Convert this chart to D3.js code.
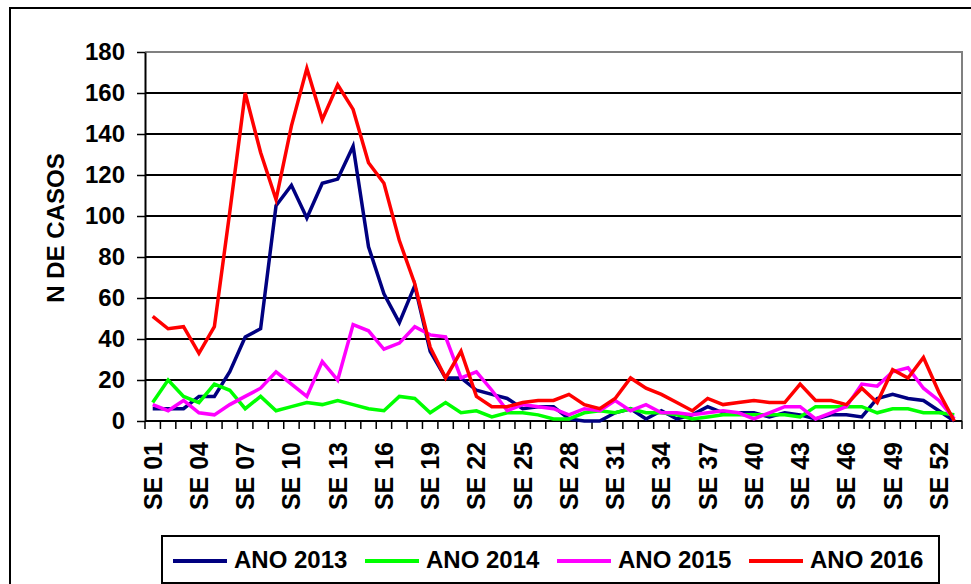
<!DOCTYPE html>
<html>
<head>
<meta charset="utf-8">
<script src="https://cdn.jsdelivr.net/npm/d3@7"></script>
<style>
  body { margin: 0; background: #fff; }
  svg { display: block; font-family: "Liberation Sans", Arial, sans-serif; font-weight: bold; }
</style>
</head>
<body>
<div id="chart"></div>
<script>
var width = 971;
var height = 584;

// semanas epidemiologicas SE 01 .. SE 53
var weeks = d3.range(1, 54).map(function(d) { return 'SE ' + (d < 10 ? '0' + d : '' + d); });
var seriesNames = ['ANO 2013', 'ANO 2014', 'ANO 2015', 'ANO 2016'];
var seriesColors = ['#000080', '#00ff00', '#ff00ff', '#ff0000'];
var yTicks = [0, 20, 40, 60, 80, 100, 120, 140, 160, 180];

var ano2013 = [6, 6, 6, 12, 12, 24, 41, 45, 105, 115,
  99, 116, 118, 134, 85, 62, 48, 66, 34, 21,
  21, 15, 13, 11, 6, 7, 7, 1, 0, 0,
  4, 6, 1, 5, 1, 3, 7, 4, 4, 4,
  2, 4, 3, 1, 3, 3, 2, 11, 13, 11,
  10, 5, 0];
var ano2014 = [9, 20, 12, 9, 18, 15, 6, 12, 5, 7,
  9, 8, 10, 8, 6, 5, 12, 11, 4, 9,
  4, 5, 2, 4, 4, 3, 1, 1, 4, 5,
  4, 6, 4, 4, 3, 1, 2, 3, 3, 3,
  3, 3, 2, 7, 7, 7, 7, 4, 6, 6,
  4, 4, 3];
var ano2015 = [8, 5, 10, 4, 3, 8, 12, 16, 24, 18,
  12, 29, 20, 47, 44, 35, 38, 46, 42, 41,
  21, 24, 15, 5, 8, 7, 6, 3, 6, 5,
  10, 5, 8, 4, 4, 3, 4, 5, 4, 1,
  4, 7, 7, 1, 4, 7, 18, 17, 24, 26,
  16, 10, 1];
var ano2016 = [51, 45, 46, 33, 46, 102, 160, 131, 108, 144,
  172, 147, 164, 152, 126, 116, 88, 67, 36, 21,
  34, 12, 7, 7, 9, 10, 10, 13, 8, 6,
  11, 21, 16, 13, 9, 5, 11, 8, 9, 10,
  9, 9, 18, 10, 10, 8, 16, 9, 25, 21,
  31, 14, 0];
var allSeries = [ano2013, ano2014, ano2015, ano2016];

var plotLeft = 145, plotRight = 962, plotTop = 52, plotBottom = 421;

var svg = d3.select('#chart')
    .append('svg')
    .attr('width', width)
    .attr('height', height);

// moldura externa
svg.append('rect')
    .attr('x', 10).attr('y', 8)
    .attr('width', 980).attr('height', 600)
    .attr('fill', 'none')
    .attr('stroke', '#000')
    .attr('stroke-width', 2);

var x = d3.scaleBand()
    .domain(weeks)
    .range([plotLeft, plotRight])
    .paddingInner(0).paddingOuter(0);

var y = d3.scaleLinear()
    .domain([0, 180])
    .range([plotBottom, plotTop]);

// grade
svg.append('g')
    .selectAll('line')
    .data(yTicks.filter(function(d) { return d > 0 && d < 180; }))
    .enter()
    .append('line')
    .attr('x1', plotLeft).attr('x2', plotRight)
    .attr('y1', function(d) { return y(d); })
    .attr('y2', function(d) { return y(d); })
    .attr('stroke', '#000')
    .attr('stroke-width', 2);

// borda da area do grafico (topo e direita)
svg.append('path')
    .attr('d', 'M' + plotLeft + ',' + y(180) + 'H' + plotRight + 'V' + plotBottom)
    .attr('fill', 'none')
    .attr('stroke', '#808080')
    .attr('stroke-width', 2);

// eixo Y
var yAxis = svg.append('g')
    .attr('transform', 'translate(' + plotLeft + ',0)')
    .call(d3.axisLeft(y).tickValues(yTicks).tickSize(8).tickPadding(12).tickSizeOuter(0));
yAxis.select('.domain').attr('stroke', '#000').attr('stroke-width', 2);
yAxis.selectAll('.tick line').attr('stroke', '#000').attr('stroke-width', 1.5);
yAxis.selectAll('.tick text')
    .attr('fill', '#000')
    .style('font-size', '24px')
    .style('font-weight', 'bold')
    .style('font-family', '"Liberation Sans", Arial, sans-serif');

// eixo X: marcas nas divisoes entre categorias
var xAxis = svg.append('g');
xAxis.append('line')
    .attr('x1', plotLeft).attr('x2', plotRight)
    .attr('y1', plotBottom).attr('y2', plotBottom)
    .attr('stroke', '#000')
    .attr('stroke-width', 2);
var bounds = weeks.map(function(w) { return x(w); }).concat([plotRight]);
xAxis.selectAll('.xtick')
    .data(bounds)
    .enter()
    .append('line')
    .attr('class', 'xtick')
    .attr('x1', function(d) { return d; })
    .attr('x2', function(d) { return d; })
    .attr('y1', plotBottom)
    .attr('y2', plotBottom + 8)
    .attr('stroke', '#000')
    .attr('stroke-width', 1.5);

xAxis.selectAll('.xlabel')
    .data(weeks.filter(function(d, i) { return i % 3 === 0; }))
    .enter()
    .append('text')
    .attr('class', 'xlabel')
    .attr('transform', function(d) {
      return 'translate(' + (x(d) + x.bandwidth() / 2) + ',' + 442 + ') rotate(-90)';
    })
    .attr('text-anchor', 'end')
    .attr('dy', '0.36em')
    .style('font-size', '25px')
    .text(function(d) { return d; });

// titulo do eixo Y
svg.append('text')
    .attr('transform', 'translate(55,228) rotate(-90)')
    .attr('text-anchor', 'middle')
    .attr('dy', '0.36em')
    .style('font-size', '24px')
    .text('N DE CASOS');

// series
var line = d3.line()
    .x(function(d, i) { return x(weeks[i]) + x.bandwidth() / 2; })
    .y(function(d) { return y(d); });

svg.append('g')
    .selectAll('path')
    .data(allSeries)
    .enter()
    .append('path')
    .attr('d', line)
    .attr('fill', 'none')
    .attr('stroke', function(d, i) { return seriesColors[i]; })
    .attr('stroke-width', 3.5)
    .attr('stroke-linejoin', 'miter');

// legenda
var legendX = 162, legendY = 536, legendW = 777, legendH = 47;
var legendStep = 192;
svg.append('rect')
    .attr('x', legendX).attr('y', legendY)
    .attr('width', legendW).attr('height', legendH)
    .attr('fill', '#fff')
    .attr('stroke', '#000')
    .attr('stroke-width', 2);

var legend = svg.selectAll('.legend')
    .data(seriesNames)
    .enter()
    .append('g')
    .attr('class', 'legend')
    .attr('transform', function(d, i) {
      return 'translate(' + (173 + i * legendStep) + ',' + 561 + ')';
    });

legend.append('line')
    .attr('x1', 0).attr('x2', 54)
    .attr('y1', 0).attr('y2', 0)
    .attr('stroke', function(d, i) { return seriesColors[i]; })
    .attr('stroke-width', 4);

legend.append('text')
    .attr('x', 61)
    .attr('y', 7)
    .style('font-size', '24px')
    .text(function(d) { return d; });
</script>
</body>
</html>
